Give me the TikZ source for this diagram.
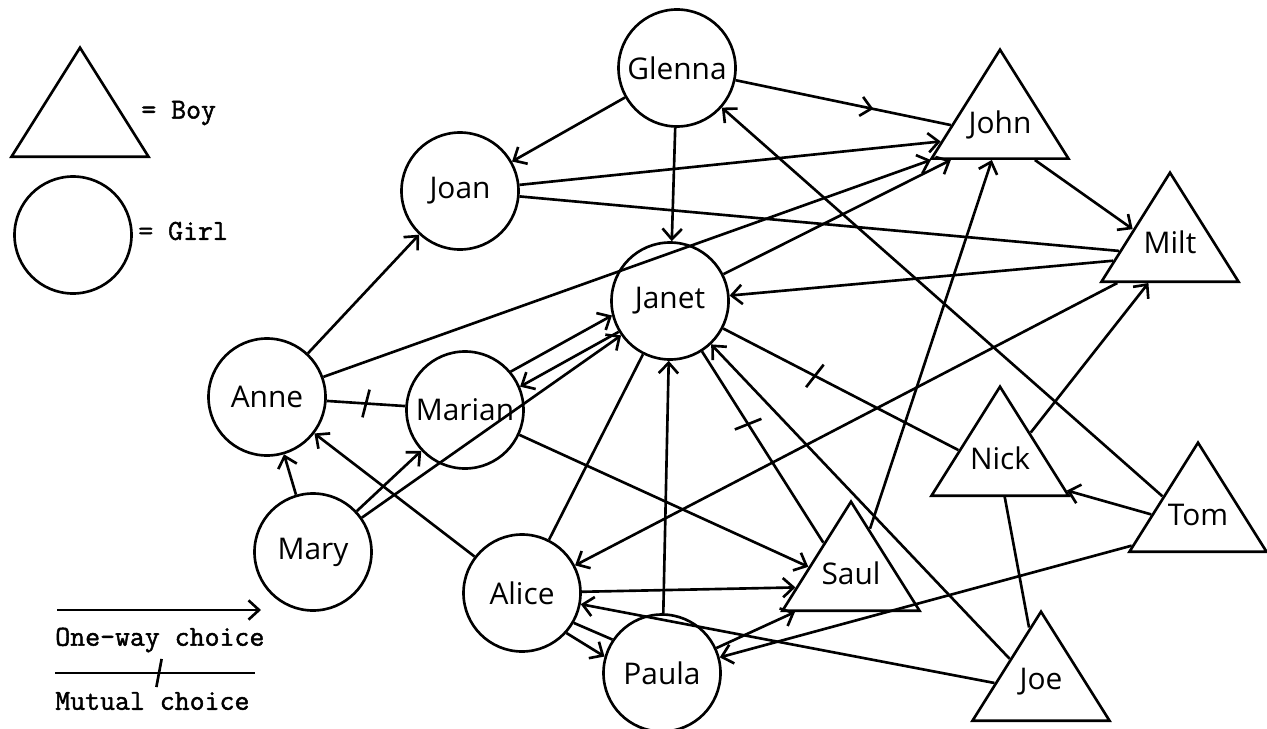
\documentclass[tikz,border=0pt]{standalone}
\usepackage{fontspec}
\setsansfont{Open Sans}
\newfontfamily\typefont[FakeBold=1.6]{Latin Modern Mono}
\usepackage{tikz}
\usetikzlibrary{shapes.geometric}
\usetikzlibrary{arrows.meta}
\usetikzlibrary{decorations.markings}
\tikzstyle{girl} = [circle, minimum size=2.34cm, inner sep=0pt, draw=black, text centered, font=\sffamily\fontsize{17}{17}\selectfont]
\tikzstyle{boy} = [isosceles triangle, isosceles triangle stretches, shape border rotate=90, minimum width=2.74cm,
minimum height=2.18cm, inner sep=0pt, text height=4pt, text depth=6.5pt, draw=black, font=\sffamily\fontsize{17}{17}\selectfont]
\tikzstyle{legend} = [inner sep=0pt, font=\typefont\fontsize{16.5}{17}\selectfont]
\tikzstyle{arrow} = [->, >={Straight Barb[length=6pt, width=11pt]}]
\tikzset{
  midarrow/.style={decoration={markings, mark=at position #1 with {\arrowreversed{Straight Barb[length=6pt, width=11pt]}}}, postaction={decorate}},
  mutual/.style={decoration={markings, mark=at position #1 with {\draw (-1.5pt,-8pt) -- (1.5pt,8pt);}}, postaction={decorate}},
  mutual/.default=0.5
}
\begin{document}
\begin{tikzpicture}[node distance=2cm, line width=1.5pt]
    \useasboundingbox (0,0) rectangle (25.34,-14.58);

    % legend
    \node(legboy)[boy, anchor=lower side] at (1.60,-3.16) {};
    \node(boytext)[legend, anchor=west] at (2.80,-2.26) {= Boy};
    \node(leggirl)[girl] at (1.46,-4.70) {};
    \node(girltext)[legend, anchor=west] at (2.74,-4.62) {= Girl};
    \coordinate(oneA) at (1.14,-12.20);
    \coordinate(oneB) at (5.22,-12.20);
    \draw[arrow] (oneA) -- (oneB);
    \node(onetext)[legend, anchor=west] at (1.08,-12.80) {One-way choice};
    \coordinate(mutA) at (1.10,-13.46);
    \coordinate(mutB) at (5.10,-13.46);
    \draw[mutual=0.52] (mutA) -- (mutB);
    \node(muttext)[legend, anchor=west] at (1.08,-14.02) {Mutual choice};

    % girls and boys
    \node(Glenna)[girl] at (13.54,-1.36) {Glenna};
    \node(Joan)[girl, below of=Glenna, xshift=-4.34cm, yshift=-0.46cm]{Joan}
	  edge[arrow, <-](Glenna);
    \node(Janet)[girl, below of=Glenna, xshift=-0.14cm, yshift=-2.66cm]{Janet}
	  edge[arrow, <-](Glenna);
    \node(John)[boy, below of=Glenna, xshift=6.46cm, yshift=0.16cm, anchor=lower side]{John}
	  edge[arrow, <-](Joan)
	  edge[arrow, <-](Janet)
	  edge[midarrow=0.36](Glenna);
    \node(Milt)[boy, below of=Janet, xshift=10.00cm, yshift=2.36cm, anchor=lower side]{Milt}
	  edge[arrow, <-](John)
	  edge(Joan)
	  edge[arrow](Janet);

    \node(Anne)[girl, below of=Joan, xshift=-3.86cm, yshift=-2.12cm]{Anne}
	  edge[arrow](Joan)
	  edge[arrow](John);
    \node(Marian)[girl, below of=Joan, xshift=0.10cm, yshift=-2.38cm]{Marian}
	  edge[mutual](Anne);
    \node(Mary)[girl, below of=Anne, xshift=0.92cm, yshift=-1.10cm]{Mary}
	  edge[arrow](Anne)
	  edge[arrow](Marian)
	  edge[arrow](Janet);
    \node(Alice)[girl, below of=Marian, xshift=1.14cm, yshift=-1.66cm]{Alice}
	  edge[arrow](Anne)
	  edge(Janet)
	  edge[arrow, <-](Milt);
    \node(Paula)[girl, below of=Alice, xshift=2.80cm, yshift=0.40cm]{Paula}
	  edge[arrow](Janet);

    \node(Saul)[boy, below of=Janet, xshift=3.62cm, yshift=-4.22cm, anchor=lower side]{Saul}
	  edge[arrow, <-](Marian)
	  edge[arrow, <-](Alice)
	  edge[arrow, <-](Paula)
	  edge[arrow](John)
	  edge[mutual=0.62](Janet);
    \node(Nick)[boy, below of=Janet, xshift=6.60cm, yshift=-1.92cm, anchor=lower side]{Nick}
	  edge[mutual=0.61](Janet)
	  edge[arrow](Milt);
    \node(Tom)[boy, below of=Janet, xshift=10.56cm, yshift=-3.04cm, anchor=lower side]{Tom}
	  edge[arrow](Nick)
	  edge[arrow](Glenna)
	  edge[arrow](Paula);
    \node(Joe)[boy, below of=Paula, xshift=7.58cm, yshift=1.02cm, anchor=lower side]{Joe}
	  edge(Nick)
	  edge[arrow](Janet)
	  edge[arrow](Alice);

    % double lines
    \draw[arrow] (Marian.40) -- (Janet.194);
    \draw[arrow] (Janet.211) -- (Marian.23);
    \draw[arrow] (Alice.-42) -- (Paula.164);
    \draw (Alice.-30) -- (Paula.146);

\end{tikzpicture}
\end{document}
